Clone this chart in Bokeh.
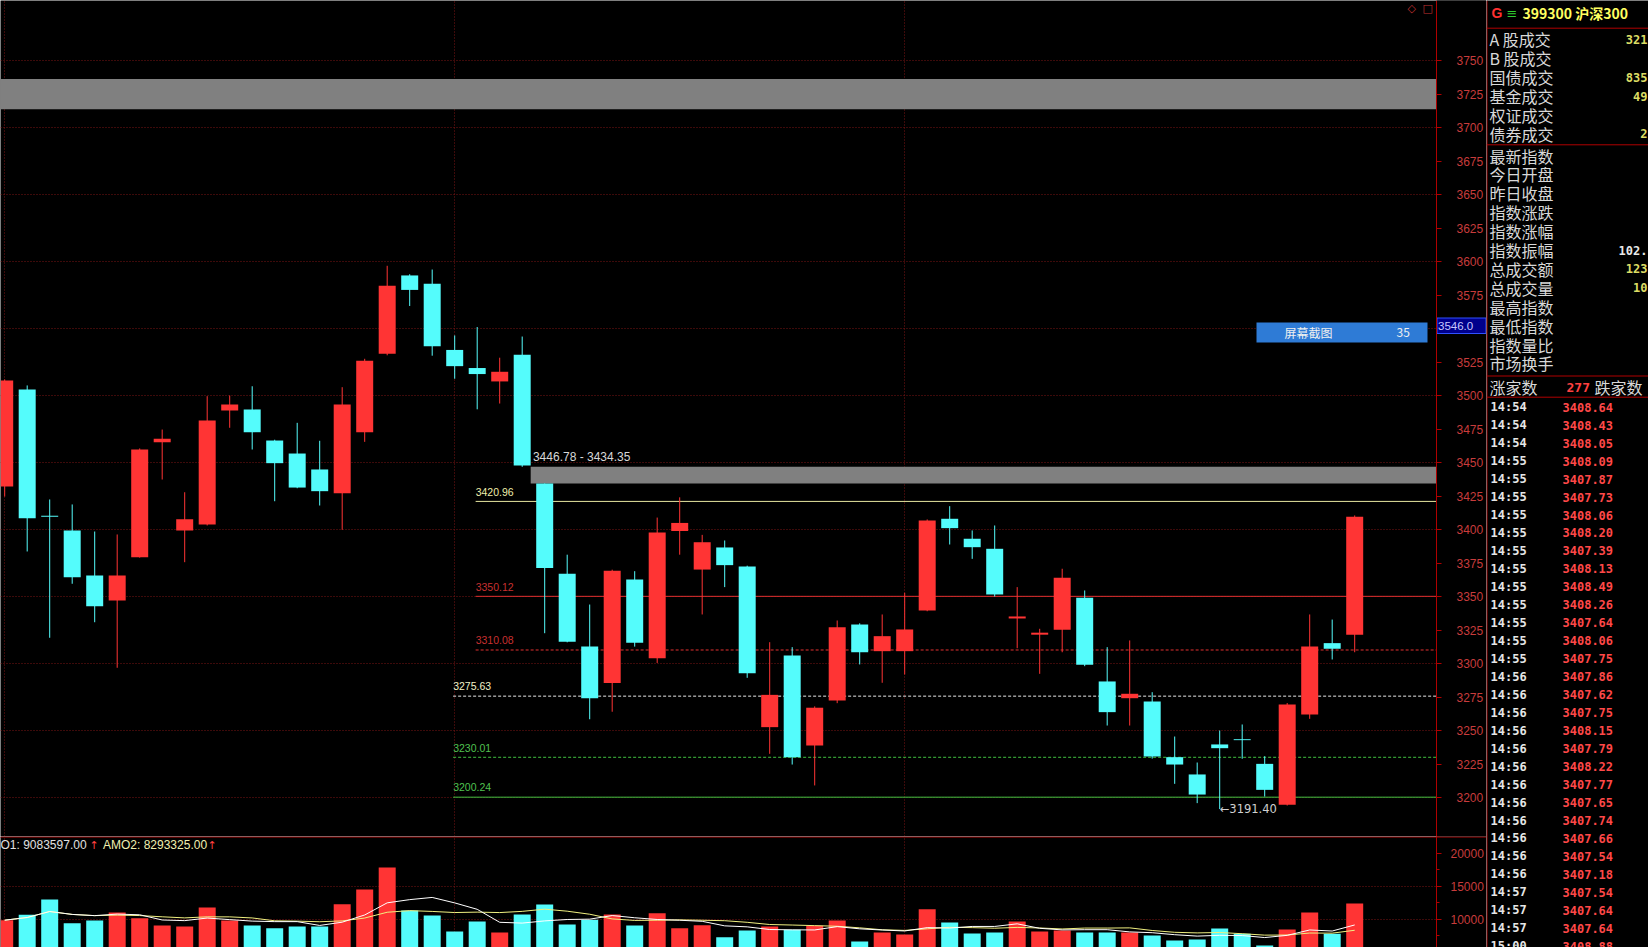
import pandas as pd
from bokeh.plotting import figure
from bokeh.models import Range1d, LinearAxis, FixedTicker
from bokeh.layouts import row, column
from bokeh.embed import file_html
from bokeh.resources import INLINE
from bokeh.core.properties import value

# ---------------- data ----------------
opens = [3432.1, 3504.5, 3410.3, 3399.3, 3365.7, 3347.0, 3379.3, 3465.2, 3399.3, 3403.7,
         3488.8, 3489.6, 3466.4, 3456.7, 3444.8, 3427.1, 3472.5, 3531.1, 3589.6, 3583.4,
         3534.0, 3520.5, 3510.5, 3530.5, 3434.35, 3366.9, 3312.6, 3285.4, 3362.6, 3304.0,
         3398.9, 3370.1, 3386.6, 3372.4, 3252.5, 3306.0, 3238.8, 3272.4, 3329.1, 3309.2,
         3309.2, 3339.6, 3408.0, 3393.1, 3385.6, 3333.6, 3321.5, 3325.2, 3349.0, 3286.6,
         3274.1, 3271.6, 3230.1, 3217.2, 3239.6, 3243.5, 3225.1, 3194.6, 3261.9, 3315.2, 3321.4]
highs = [3512.0, 3507.5, 3422.4, 3418.7, 3398.5, 3396.3, 3460.5, 3474.6, 3427.8, 3499.5,
         3500.0, 3506.9, 3467.0, 3479.6, 3466.2, 3506.2, 3527.4, 3596.8, 3590.5, 3594.0,
         3544.8, 3551.1, 3528.2, 3544.0, 3434.35, 3381.2, 3344.0, 3370.0, 3368.9, 3408.9,
         3424.0, 3396.0, 3391.8, 3373.0, 3315.9, 3312.2, 3268.0, 3332.1, 3330.0, 3336.6,
         3352.8, 3407.5, 3417.4, 3399.3, 3403.0, 3357.0, 3325.9, 3370.7, 3354.5, 3312.2,
         3317.2, 3278.6, 3245.5, 3226.1, 3250.0, 3254.5, 3230.8, 3270.5, 3336.6, 3332.8, 3410.5]
lows = [3424.6, 3383.6, 3319.2, 3359.5, 3330.8, 3296.8, 3379.0, 3437.3, 3375.6, 3403.0,
        3475.9, 3459.7, 3421.1, 3430.8, 3417.9, 3399.8, 3465.4, 3530.0, 3566.8, 3529.7,
        3512.5, 3489.7, 3494.0, 3446.78, 3322.6, 3315.8, 3258.4, 3264.0, 3312.6, 3300.4,
        3381.2, 3336.6, 3357.0, 3289.3, 3232.6, 3224.6, 3209.0, 3270.4, 3299.3, 3285.6,
        3291.8, 3339.0, 3388.8, 3378.1, 3350.0, 3311.4, 3292.3, 3308.4, 3298.0, 3253.7,
        3253.7, 3229.0, 3210.2, 3195.8, 3191.40, 3228.9, 3200.7, 3194.0, 3258.7, 3303.0, 3308.4]
closes = [3511.2, 3408.4, 3409.6, 3364.4, 3342.8, 3365.7, 3459.7, 3467.7, 3407.7, 3481.3,
          3493.3, 3472.6, 3449.5, 3431.3, 3428.6, 3493.3, 3526.0, 3581.9, 3578.8, 3536.8,
          3521.9, 3516.0, 3517.7, 3447.7, 3371.2, 3316.3, 3274.0, 3369.2, 3315.4, 3397.8,
          3404.9, 3390.5, 3373.4, 3292.8, 3276.6, 3230.1, 3267.0, 3327.1, 3308.4, 3320.4,
          3325.4, 3406.7, 3401.0, 3386.8, 3351.5, 3335.1, 3323.0, 3364.0, 3299.0, 3263.7,
          3277.4, 3230.6, 3224.6, 3202.2, 3236.8, 3242.8, 3205.7, 3269.4, 3312.7, 3311.0, 3409.5]
volumes = [9818, 10636, 12955, 9364, 9773, 10985, 10121, 9015, 8864, 11742,
           9773, 9015, 8606, 8864, 8864, 12247, 14470, 17803, 11288, 10530,
           8106, 9621, 7955, 10682, 12197, 9167, 9879, 10682, 9015, 10880,
           8606, 9061, 7242, 8258, 8864, 8364, 8970, 9773, 6591, 7955,
           7652, 11485, 9470, 7803, 7955, 9621, 8106, 8258, 7955, 7955,
           7955, 7500, 6742, 6894, 8561, 7758, 5985, 8409, 10985, 7758, 12348]

levels = [3420.96, 3350.12, 3310.08, 3275.63, 3230.01, 3200.24]
level_labels = ["3420.96", "3350.12", "3310.08", "3275.63", "3230.01", "3200.24"]
level_start_candle = [21, 21, 21, 20, 20, 20]
gap_tops = [3736.2, 3446.78]
gap_bottoms = [3713.6, 3434.35]
gap_after_candle = [None, 23]
gap_text = "3446.78 - 3434.35"
low_mark_candle = 54
low_mark = 3191.40
price_ticks = list(range(3200, 3751, 25))
price_hidden_tick = 3550          # covered by the cursor price box
price_grid = list(range(3200, 3751, 50))
vol_ticks = [10000, 15000, 20000]
vol_minor = [7500, 12500, 17500, 22500]
vol_grid = [10000, 15000]
x_grid = [0, 20, 40]
cursor_price_text = "3546.0"
amo_texts = ["O1: 9083597.00", "AMO2: 8293325.00"]

header_code = "399300 沪深300"
panel_labels_1 = ["A 股成交", "B 股成交", "国债成交", "基金成交", "权证成交", "债券成交"]
panel_values_1 = ["321", "", "835", "49", "", "2"]
panel_labels_2 = ["最新指数", "今日开盘", "昨日收盘", "指数涨跌", "指数涨幅", "指数振幅",
                  "总成交额", "总成交量", "最高指数", "最低指数", "指数量比", "市场换手"]
panel_values_2 = ["", "", "", "", "", "102.", "123", "10", "", "", "", ""]
up_count = "277"
tick_times = ["14:54", "14:54", "14:54", "14:55", "14:55", "14:55", "14:55", "14:55", "14:55",
              "14:55", "14:55", "14:55", "14:55", "14:55", "14:55", "14:56", "14:56", "14:56",
              "14:56", "14:56", "14:56", "14:56", "14:56", "14:56", "14:56", "14:56", "14:56",
              "14:57", "14:57", "14:57", "15:00"]
tick_prices = ["3408.64", "3408.43", "3408.05", "3408.09", "3407.87", "3407.73", "3408.06",
               "3408.20", "3407.39", "3408.13", "3408.49", "3408.26", "3407.64", "3408.06",
               "3407.75", "3407.86", "3407.62", "3407.75", "3408.15", "3407.79", "3408.22",
               "3407.77", "3407.65", "3407.74", "3407.66", "3407.54", "3407.18", "3407.54",
               "3407.64", "3407.64", "3408.88"]

# ---------------- layout constants (pixels) ----------------
X0, DX = 4.2, 22.5          # pixel of candle 0, candle spacing
PY0, PK = 60.0, 1.34        # pixel of 3750, px per point
VY0, VK = 852.5, 0.0066     # pixel of 20000 vol, px per unit
BW = 0.755                  # body width in candle units
FRAME_R = 1436              # x of the axis line
PANEL_L = 1486              # left edge of info panel
SPLIT_Y = 836               # border between price and volume panes
W, H = 1648, 947
BG = "#000000"
RED = "#FF3434"
CYAN = "#54FCFC"
FRAME_RED = "#B00000"
GRID = "#7A1414"
AXIS_TXT = "#C83C3C"


def xi(X):
    return (X - X0) / DX


def py(Y):
    return 3750 - (Y - PY0) / PK


def vy(Y):
    return 20000 - (Y - VY0) / VK


idx = list(range(len(opens)))
colors = [RED if c >= o else CYAN for o, c in zip(opens, closes)]
tops = [max(o, c) for o, c in zip(opens, closes)]
bots = [min(o, c) for o, c in zip(opens, closes)]
XR = xi(FRAME_R)
xrange = Range1d(xi(0), xi(PANEL_L))


def base_fig(height, yr):
    f = figure(width=PANEL_L, height=height, x_range=xrange, y_range=yr,
               output_backend="svg", toolbar_location=None, x_axis_location=None,
               y_axis_location=None, background_fill_color=BG, border_fill_color=BG,
               outline_line_color=None, min_border=0)
    f.xgrid.ticker = FixedTicker(ticks=x_grid)
    for g in (f.xgrid, f.ygrid):
        g.grid_line_color = GRID
        g.grid_line_dash = "1 2"
        g.grid_line_width = 1
    return f


# ---------------- main price figure ----------------
p = base_fig(SPLIT_Y, Range1d(py(SPLIT_Y), py(0)))
p.ygrid.ticker = FixedTicker(ticks=price_grid)

# gaps
gap_left = [xi(0) - 1 if a is None else a + BW / 2 for a in gap_after_candle]
p.quad(left=gap_left, right=[XR] * 2, top=gap_tops, bottom=gap_bottoms,
       fill_color="#808080", line_color=None)
p.text(x=[gap_after_candle[1] + BW / 2 + 0.1], y=[gap_tops[1] + 1.8], text=[gap_text],
       text_color="#D8D8D8", text_font=value("Liberation Sans"), text_font_size="12px",
       text_baseline="bottom", text_align="left")

# level lines
lvl_colors = ["#E6E6A0", "#E03030", "#E03030", "#E8E8E8", "#40C040", "#40C040"]
lvl_text_colors = ["#EEEEAA", "#C83030", "#C83030", "#F2F2C8", "#50C050", "#50C050"]
lvl_dash = ["solid", "solid", "3 2", "3 2", "3 2", "solid"]
for lv, s, c, d in zip(levels, level_start_candle, lvl_colors, lvl_dash):
    p.segment(x0=[s - 0.07], y0=[lv], x1=[XR], y1=[lv], line_color=c,
              line_width=1, line_dash=d)
p.text(x=[s - 0.07 for s in level_start_candle], y=[lv + 4.3 for lv in levels],
       text=level_labels, text_color=lvl_text_colors, text_font=value("Liberation Sans"),
       text_font_size="10.5px", text_baseline="bottom", text_align="left")

# candles
p.segment(x0=idx, y0=lows, x1=idx, y1=highs, line_color=colors, line_width=1)
p.vbar(x=idx, width=BW, top=tops, bottom=bots, fill_color=colors, line_color=None)

# low marker
p.text(x=[low_mark_candle], y=[low_mark], text=["\u2190" + f"{low_mark:.2f}"],
       text_color="#D0D0D0", text_font=value("DejaVu Sans"), text_font_size="11.5px",
       text_baseline="middle", text_align="left")

# screenshot overlay box
p.quad(left=[xi(1256)], right=[xi(1427)], top=[py(322)], bottom=[py(342)],
       fill_color="#2E7BD6", line_color=None)
p.text(x=[xi(1284), xi(1396)], y=[py(332)] * 2, text=["屏幕截图", "35"],
       text_color="#F0F0F0", text_font=value("Noto Sans CJK SC"), text_font_size="12px",
       text_baseline="middle", text_align="left")
p.text(x=[xi(1407), xi(1422)], y=[py(8)] * 2, text=["\u25c7", "\u25a1"],
       text_color="#C03030", text_font=value("DejaVu Sans"), text_font_size="11px",
       text_baseline="middle", text_align="left")

# axis column: black cover (hides grid), cursor price box
p.quad(left=[xi(FRAME_R + 0.5)], right=[xi(PANEL_L + 2)], top=[py(-5)], bottom=[py(SPLIT_Y + 5)],
       fill_color=BG, line_color=None)
p.quad(left=[xi(FRAME_R + 0.5)], right=[xi(PANEL_L - 0.5)], top=[py(317.5)], bottom=[py(333)],
       fill_color="#00008C", line_color="#3050FF", line_width=1)
p.text(x=[xi(FRAME_R + 1.5)], y=[py(325.5)], text=[cursor_price_text], text_color="#C8C8FF",
       text_font=value("Liberation Sans"), text_font_size="11.5px", text_baseline="middle",
       text_align="left")

ax = LinearAxis(fixed_location=XR,
                ticker=FixedTicker(ticks=[t for t in price_ticks if t != price_hidden_tick]),
                axis_line_color=FRAME_RED, major_tick_line_color=FRAME_RED, major_tick_out=5,
                major_tick_in=0, minor_tick_line_color=None, major_label_text_color=AXIS_TXT,
                major_label_text_font="Liberation Sans", major_label_text_font_size="12px",
                major_label_standoff=15)
p.add_layout(ax, "right")

# ---------------- volume figure ----------------
v = base_fig(H - SPLIT_Y, Range1d(vy(H), vy(SPLIT_Y)))
v.ygrid.ticker = FixedTicker(ticks=vol_grid)

v.vbar(x=idx, width=BW, top=volumes, bottom=0, fill_color=colors, line_color=None)
vs = pd.Series(volumes, dtype=float)
ma5 = vs.rolling(5, min_periods=1).mean().tolist()
ma10 = vs.rolling(10, min_periods=1).mean().tolist()
v.line(idx, ma10, line_color="#F0F080", line_width=1)
v.line(idx, ma5, line_color="#FFFFFF", line_width=1)
v.quad(left=[xi(FRAME_R + 0.5)], right=[xi(PANEL_L + 2)], top=[vy(SPLIT_Y - 5)],
       bottom=[vy(H + 5)], fill_color=BG, line_color=None)
v.segment(x0=[xi(0) - 1], y0=[vy(SPLIT_Y + 0.5)], x1=[xi(PANEL_L) + 1],
          y1=[vy(SPLIT_Y + 0.5)], line_color=FRAME_RED, line_width=1)
v.text(x=[xi(0), xi(102.5)], y=[vy(844.5)] * 2, text=amo_texts,
       text_color=["#E0E0E0", "#F0F0B0"], text_font=value("Liberation Sans"),
       text_font_size="12px", text_baseline="middle", text_align="left")
v.text(x=[xi(89), xi(207)], y=[vy(844.5)] * 2, text=["\u2191", "\u2191"],
       text_color="#FF4040", text_font=value("DejaVu Sans"), text_font_size="11px",
       text_baseline="middle", text_align="left")

vax = LinearAxis(fixed_location=XR, ticker=FixedTicker(ticks=vol_ticks, minor_ticks=vol_minor),
                 axis_line_color=FRAME_RED, major_tick_line_color=FRAME_RED,
                 minor_tick_line_color=FRAME_RED, major_tick_out=5, major_tick_in=0,
                 minor_tick_out=3, minor_tick_in=0, major_label_text_color=AXIS_TXT,
                 major_label_text_font="Liberation Sans", major_label_text_font_size="12px",
                 major_label_standoff=9)
v.add_layout(vax, "right")

# ---------------- right info panel ----------------
r = figure(width=W - PANEL_L, height=H, x_range=Range1d(PANEL_L, W), y_range=Range1d(H, 0),
           output_backend="svg", toolbar_location=None, x_axis_location=None,
           y_axis_location=None, background_fill_color=BG, border_fill_color=BG,
           outline_line_color=None, min_border=0)
r.xgrid.visible = False
r.ygrid.visible = False

sep_y = [27.7, 144.3, 375.5, 396.7]
r.segment(x0=[PANEL_L] * len(sep_y), y0=sep_y, x1=[W] * len(sep_y), y1=sep_y,
          line_color=FRAME_RED, line_width=1)
r.segment(x0=[PANEL_L + 0.5], y0=[0], x1=[PANEL_L + 0.5], y1=[H], line_color=FRAME_RED,
          line_width=1)

r.text(x=[1491], y=[12.5], text=["G"], text_color="#FF3030", text_font=value("Liberation Sans"),
       text_font_size="14px", text_font_style="bold", text_baseline="middle")
r.text(x=[1506], y=[12.5], text=["\u2261"], text_color="#30D030", text_font=value("DejaVu Sans"),
       text_font_size="13px", text_baseline="middle")
r.text(x=[1522], y=[12.5], text=[header_code], text_color="#FFFF60",
       text_font=value("Noto Sans CJK SC"), text_font_size="14px", text_font_style="bold",
       text_baseline="middle")

y1 = [38.8 + 18.9 * k for k in range(len(panel_labels_1))]
y2 = [155.0 + 18.9 * k for k in range(len(panel_labels_2))]
r.text(x=[1489] * (len(y1) + len(y2)), y=y1 + y2, text=panel_labels_1 + panel_labels_2,
       text_color="#D8D8D8", text_font=value("Noto Sans CJK SC"), text_font_size="16px",
       text_baseline="middle", text_align="left")
vals = panel_values_1 + panel_values_2
val_colors = ["#E8E8E8" if s.endswith(".") else "#DCDC64" for s in vals]
r.text(x=[W - 1] * len(vals), y=y1 + y2, text=vals, text_color=val_colors,
       text_font=value("DejaVu Sans Mono"), text_font_size="12px", text_font_style="bold",
       text_baseline="middle", text_align="right")

r.text(x=[1489, 1594], y=[386.7] * 2, text=["涨家数", "跌家数"], text_color="#D8D8D8",
       text_font=value("Noto Sans CJK SC"), text_font_size="16px", text_baseline="middle")
r.text(x=[1566], y=[386.7], text=[up_count], text_color="#FF4040",
       text_font=value("DejaVu Sans Mono"), text_font_size="13px", text_font_style="bold",
       text_baseline="middle")

ty = [406.7 + 17.97 * k for k in range(len(tick_times))]
r.text(x=[1490] * len(ty), y=ty, text=tick_times, text_color="#E6E6E6",
       text_font=value("DejaVu Sans Mono"), text_font_size="12px", text_font_style="bold",
       text_baseline="middle")
r.text(x=[1562] * len(ty), y=ty, text=tick_prices, text_color="#FF4848",
       text_font=value("DejaVu Sans Mono"), text_font_size="12px", text_font_style="bold",
       text_baseline="middle")

layout = row(column(p, v), r)
open("out.html", "w").write(file_html(layout, INLINE))
